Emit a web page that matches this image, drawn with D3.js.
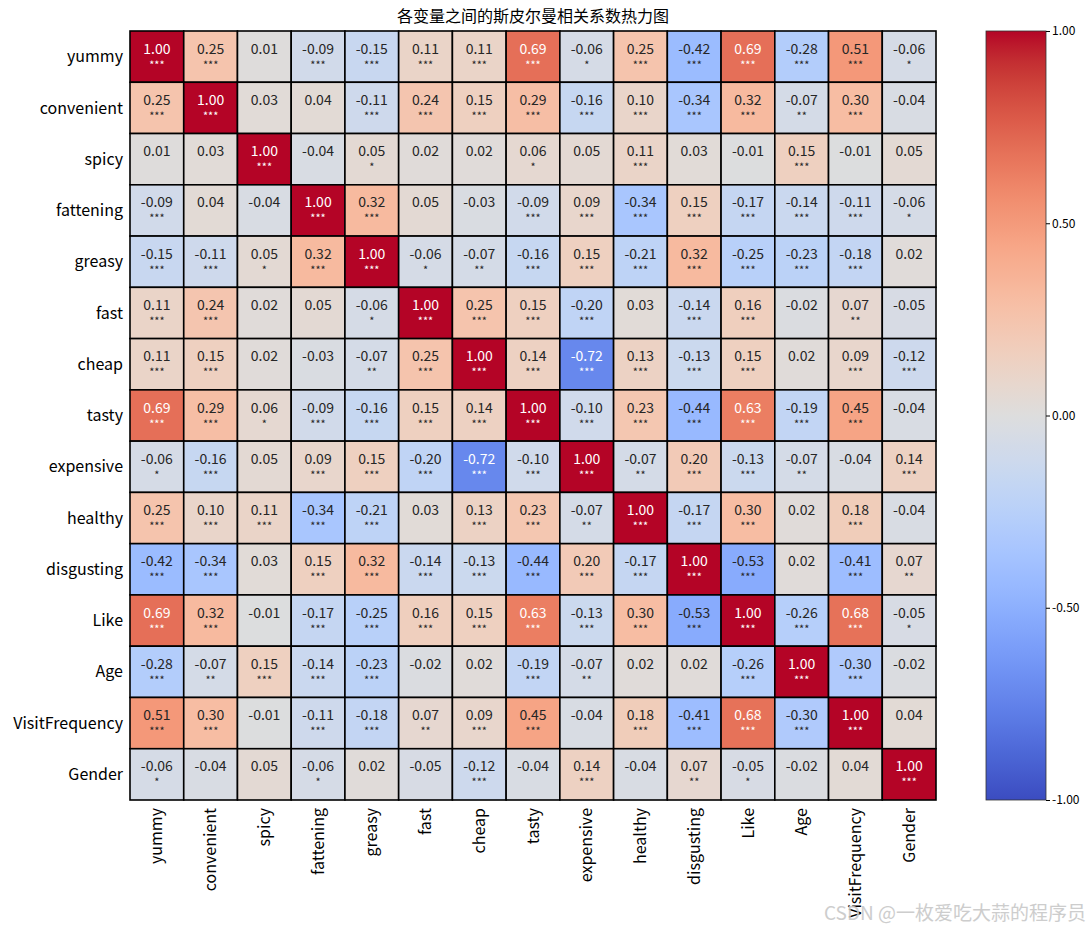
<!DOCTYPE html>
<html>
<head>
<meta charset="utf-8">
<script src="https://cdn.jsdelivr.net/npm/d3@7.9.0/dist/d3.min.js"></script>
<style>
  body { margin: 0; background: #fff; }
  svg { font-family: "Noto Sans CJK SC", "Noto Sans", sans-serif; }
</style>
</head>
<body>
<svg id="chart" width="1091" height="930"></svg>
<script>
const variables = ['yummy', 'convenient', 'spicy', 'fattening', 'greasy', 'fast', 'cheap', 'tasty',
  'expensive', 'healthy', 'disgusting', 'Like', 'Age', 'VisitFrequency', 'Gender'];

// spearman correlations, row by row
const corr = [
  [1.00, 0.25, 0.01, -0.09, -0.15, 0.11, 0.11, 0.69, -0.06, 0.25, -0.42, 0.69, -0.28, 0.51, -0.06],
  [0.25, 1.00, 0.03, 0.04, -0.11, 0.24, 0.15, 0.29, -0.16, 0.10, -0.34, 0.32, -0.07, 0.30, -0.04],
  [0.01, 0.03, 1.00, -0.04, 0.05, 0.02, 0.02, 0.06, 0.05, 0.11, 0.03, -0.01, 0.15, -0.01, 0.05],
  [-0.09, 0.04, -0.04, 1.00, 0.32, 0.05, -0.03, -0.09, 0.09, -0.34, 0.15, -0.17, -0.14, -0.11, -0.06],
  [-0.15, -0.11, 0.05, 0.32, 1.00, -0.06, -0.07, -0.16, 0.15, -0.21, 0.32, -0.25, -0.23, -0.18, 0.02],
  [0.11, 0.24, 0.02, 0.05, -0.06, 1.00, 0.25, 0.15, -0.20, 0.03, -0.14, 0.16, -0.02, 0.07, -0.05],
  [0.11, 0.15, 0.02, -0.03, -0.07, 0.25, 1.00, 0.14, -0.72, 0.13, -0.13, 0.15, 0.02, 0.09, -0.12],
  [0.69, 0.29, 0.06, -0.09, -0.16, 0.15, 0.14, 1.00, -0.10, 0.23, -0.44, 0.63, -0.19, 0.45, -0.04],
  [-0.06, -0.16, 0.05, 0.09, 0.15, -0.20, -0.72, -0.10, 1.00, -0.07, 0.20, -0.13, -0.07, -0.04, 0.14],
  [0.25, 0.10, 0.11, -0.34, -0.21, 0.03, 0.13, 0.23, -0.07, 1.00, -0.17, 0.30, 0.02, 0.18, -0.04],
  [-0.42, -0.34, 0.03, 0.15, 0.32, -0.14, -0.13, -0.44, 0.20, -0.17, 1.00, -0.53, 0.02, -0.41, 0.07],
  [0.69, 0.32, -0.01, -0.17, -0.25, 0.16, 0.15, 0.63, -0.13, 0.30, -0.53, 1.00, -0.26, 0.68, -0.05],
  [-0.28, -0.07, 0.15, -0.14, -0.23, -0.02, 0.02, -0.19, -0.07, 0.02, 0.02, -0.26, 1.00, -0.30, -0.02],
  [0.51, 0.30, -0.01, -0.11, -0.18, 0.07, 0.09, 0.45, -0.04, 0.18, -0.41, 0.68, -0.30, 1.00, 0.04],
  [-0.06, -0.04, 0.05, -0.06, 0.02, -0.05, -0.12, -0.04, 0.14, -0.04, 0.07, -0.05, -0.02, 0.04, 1.00]
];

// significance stars (number of *)
const stars = [
  [3, 3, 0, 3, 3, 3, 3, 3, 1, 3, 3, 3, 3, 3, 1],
  [3, 3, 0, 0, 3, 3, 3, 3, 3, 3, 3, 3, 2, 3, 0],
  [0, 0, 3, 0, 1, 0, 0, 1, 0, 3, 0, 0, 3, 0, 0],
  [3, 0, 0, 3, 3, 0, 0, 3, 3, 3, 3, 3, 3, 3, 1],
  [3, 3, 1, 3, 3, 1, 2, 3, 3, 3, 3, 3, 3, 3, 0],
  [3, 3, 0, 0, 1, 3, 3, 3, 3, 0, 3, 3, 0, 2, 0],
  [3, 3, 0, 0, 2, 3, 3, 3, 3, 3, 3, 3, 0, 3, 3],
  [3, 3, 1, 3, 3, 3, 3, 3, 3, 3, 3, 3, 3, 3, 0],
  [1, 3, 0, 3, 3, 3, 3, 3, 3, 2, 3, 3, 2, 0, 3],
  [3, 3, 3, 3, 3, 0, 3, 3, 2, 3, 3, 3, 0, 3, 0],
  [3, 3, 0, 3, 3, 3, 3, 3, 3, 3, 3, 3, 0, 3, 2],
  [3, 3, 0, 3, 3, 3, 3, 3, 3, 3, 3, 3, 3, 3, 1],
  [3, 2, 3, 3, 3, 0, 0, 3, 2, 0, 0, 3, 3, 3, 0],
  [3, 3, 0, 3, 3, 2, 3, 3, 0, 3, 3, 3, 3, 3, 0],
  [1, 0, 0, 1, 0, 0, 3, 0, 3, 0, 2, 1, 0, 0, 3]
];

const colorTicks = [-1, -0.5, 0, 0.5, 1];

// matplotlib coolwarm stops
const cwStops = [
  [59,76,192],[68,90,204],[77,104,215],[87,117,225],[98,130,234],[108,142,241],[119,154,247],
  [130,165,251],[141,176,254],[152,185,255],[163,194,255],[174,201,253],[184,208,249],[194,213,244],
  [204,217,238],[213,219,230],[221,221,221],[229,216,209],[236,211,197],[241,204,185],[245,196,173],
  [247,187,160],[247,177,148],[247,166,135],[244,154,123],[241,141,111],[236,127,99],[229,112,88],
  [222,96,77],[213,80,66],[203,62,56],[192,40,47],[180,4,38]
];
const color = d3.scaleLinear()
  .domain(cwStops.map((_, i) => -1 + 2 * i / (cwStops.length - 1)))
  .range(cwStops.map(c => d3.rgb(c[0], c[1], c[2])))
  .interpolate(d3.interpolateRgb)
  .clamp(true);

// plain hyphen minus like matplotlib
const fmt = v => d3.format('.2f')(v).replace('\u2212', '-');

function lum(c) {
  const f = v => { v /= 255; return v <= 0.03928 ? v / 12.92 : Math.pow((v + 0.055) / 1.055, 2.4); };
  const r = d3.rgb(c);
  return 0.2126 * f(r.r) + 0.7152 * f(r.g) + 0.0722 * f(r.b);
}

const svg = d3.select('#chart');
const mLeft = 130, mTop = 31, mRight = 936, mBottom = 800;

const x = d3.scaleBand().domain(variables).range([mLeft, mRight]);
const y = d3.scaleBand().domain(variables).range([mTop, mBottom]);

const cells = [];
corr.forEach((row, i) => row.forEach((v, j) => cells.push({ r: variables[i], c: variables[j], v, s: stars[i][j] })));

const g = svg.append('g');
g.selectAll('rect.cell').data(cells).enter().append('rect')
  .attr('class', 'cell')
  .attr('x', d => x(d.c))
  .attr('y', d => y(d.r))
  .attr('width', x.bandwidth())
  .attr('height', y.bandwidth())
  .attr('fill', d => color(d.v))
  .attr('stroke', '#000')
  .attr('stroke-width', 1.6);

const txt = d => lum(color(d.v)) < 0.408 ? '#ffffff' : '#262626';

g.selectAll('text.val').data(cells).enter().append('text')
  .attr('x', d => x(d.c) + x.bandwidth() / 2)
  .attr('y', d => y(d.r) + y.bandwidth() / 2 - 3)
  .attr('text-anchor', 'middle')
  .attr('font-size', 14)
  .attr('fill', txt)
  .text(d => fmt(d.v));

g.selectAll('text.star').data(cells.filter(d => d.s > 0)).enter().append('text')
  .attr('x', d => x(d.c) + x.bandwidth() / 2)
  .attr('y', d => y(d.r) + y.bandwidth() / 2 + 12)
  .attr('text-anchor', 'middle')
  .attr('font-size', 11)
  .attr('fill', txt)
  .text(d => '*'.repeat(d.s));

// axis labels
svg.append('g').selectAll('text').data(variables).enter().append('text')
  .attr('x', mLeft - 7)
  .attr('y', d => y(d) + y.bandwidth() / 2)
  .attr('dy', '0.35em')
  .attr('text-anchor', 'end')
  .attr('font-size', 16)
  .attr('fill', '#000')
  .text(d => d);

svg.append('g').selectAll('text').data(variables).enter().append('text')
  .attr('transform', d => `translate(${x(d) + x.bandwidth() / 2},${mBottom + 8}) rotate(-90)`)
  .attr('dy', '0.35em')
  .attr('text-anchor', 'end')
  .attr('font-size', 16)
  .attr('fill', '#000')
  .text(d => d);

svg.append('text')
  .attr('x', (mLeft + mRight) / 2)
  .attr('y', 22)
  .attr('text-anchor', 'middle')
  .attr('font-size', 16)
  .attr('fill', '#000')
  .text('各变量之间的斯皮尔曼相关系数热力图');

// colorbar
const cbX = 986, cbW = 60;
const cbScale = d3.scaleLinear().domain([-1, 1]).range([mBottom, mTop]);
const defs = svg.append('defs');
const grad = defs.append('linearGradient').attr('id', 'cw')
  .attr('x1', 0).attr('y1', 1).attr('x2', 0).attr('y2', 0);
grad.selectAll('stop').data(d3.range(0, 1.0001, 0.02)).enter().append('stop')
  .attr('offset', d => d)
  .attr('stop-color', d => color(-1 + 2 * d));
svg.append('rect')
  .attr('x', cbX).attr('y', mTop)
  .attr('width', cbW).attr('height', mBottom - mTop)
  .attr('fill', 'url(#cw)')
  .attr('stroke', '#333').attr('stroke-width', 0.8);

const cbAxis = svg.append('g')
  .attr('transform', `translate(${cbX + cbW},0)`)
  .call(d3.axisRight(cbScale).tickValues(colorTicks).tickFormat(fmt).tickSize(4).tickPadding(2));
cbAxis.select('.domain').remove();
cbAxis.selectAll('text').attr('font-size', 12).attr('fill', '#000')
  .attr('font-family', '"Noto Sans CJK SC", sans-serif');
cbAxis.selectAll('line').attr('stroke', '#000');

// watermark
svg.append('text')
  .attr('x', 1086)
  .attr('y', 920)
  .attr('text-anchor', 'end')
  .attr('font-size', 19)
  .attr('fill', '#c8c8c8')
  .attr('opacity', 0.9)
  .text('CSDN @一枚爱吃大蒜的程序员');
</script>
</body>
</html>
